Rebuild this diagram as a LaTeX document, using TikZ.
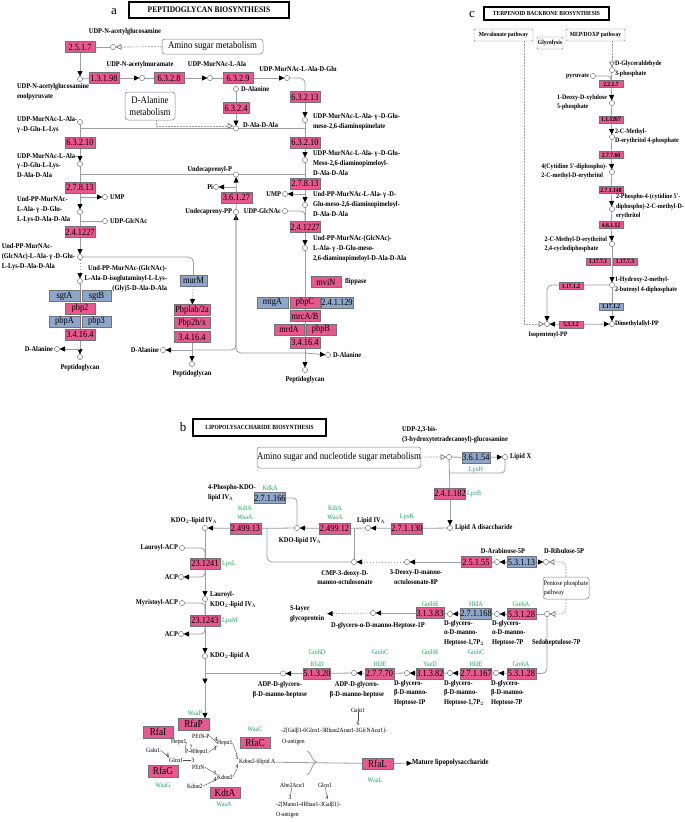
\documentclass[tikz,border=0pt]{standalone}
\usepackage{fontspec}
\setmainfont{Liberation Serif}
\newfontfamily\cnd{Liberation Serif}[FakeStretch=0.88]
\usetikzlibrary{arrows.meta,calc}
\pgfdeclarelayer{bg}
\pgfsetlayers{bg,main}
\definecolor{pinkc}{RGB}{232,88,142}
\definecolor{bluec}{RGB}{142,166,202}
\definecolor{linec}{RGB}{158,158,158}
\definecolor{grnc}{RGB}{30,165,95}
\newcommand\lblf{\cnd\bfseries\fontsize{7.3}{9.8}\selectfont}
\newcommand\clblf{\cnd\bfseries\fontsize{6.8}{9.6}\selectfont}
\newcommand\boxf{\cnd\fontsize{9.5}{10}\selectfont}
\newcommand\cboxf{\cnd\bfseries\fontsize{6.4}{7}\selectfont}
\newcommand\grnf{\cnd\fontsize{7}{9}\selectfont}
\newcommand\mapf{\cnd\fontsize{10}{12}\selectfont}
\newcommand\glyf{\cnd\fontsize{6.4}{7}\selectfont}
\tikzset{
 pinkbox/.style={draw=black!55, line width=0.4pt, fill=pinkc, minimum width=#1, minimum height=11pt, inner sep=0pt, outer sep=0pt, font=\boxf},
 pinkbox/.default=30pt,
 bluebox/.style={pinkbox=#1, fill=bluec},
 bluebox/.default=30pt,
 cpink/.style={pinkbox=24pt, minimum height=7pt, font=\cboxf},
 cblue/.style={cpink, fill=bluec},
 bigpink/.style={pinkbox=#1, minimum height=11.5pt, font=\cnd\fontsize{10.5}{11}\selectfont},
 bigpink/.default=30pt,
 lbl/.style={inner sep=0pt, outer sep=0pt, font=\lblf, align=left},
 clbl/.style={lbl, font=\clblf},
 grn/.style={inner sep=0pt, font=\grnf, text=grnc},
 gly/.style={inner sep=0pt, font=\glyf},
 cpd/.style={circle, draw=black!50, fill=white, inner sep=0pt, outer sep=0pt, minimum size=5.2pt, line width=0.5pt},
 lnk/.style={draw=linec, line width=0.8pt},
 glk/.style={draw=black!70, line width=0.4pt},
 dsh/.style={draw=linec, line width=0.7pt, dash pattern=on 1.6pt off 1.4pt},
 arw/.style={-{Triangle[length=5.4pt,width=5pt,color=black]}},
 oarw/.style={-{Triangle[open,length=5.8pt,width=5.8pt,color=black!55]}},
 ttl/.style={draw=black, line width=1.5pt, inner sep=0pt},
 mapbox/.style={draw=black!50, rounded corners=3pt, line width=0.5pt, inner sep=0pt, font=\mapf, align=center},
 smallmap/.style={draw=black!50, line width=0.4pt, rounded corners=1pt, minimum height=12pt, inner sep=0pt, font=\cnd\bfseries\fontsize{6.3}{7}\selectfont},
 pnl/.style={inner sep=0pt, font=\fontsize{13}{13}\selectfont}
}
\begin{document}
\begin{tikzpicture}[x=1pt,y=-1pt]
\useasboundingbox (0,0) rectangle (685,822);
\begin{pgfonlayer}{bg}
\fill[white] (0,0) rectangle (685,822);
\end{pgfonlayer}

%%%%%%%%%%%%%%%% PANEL A %%%%%%%%%%%%%%%%
\node[pnl] (la) at (114,12) {a};
\node[ttl, minimum width=160pt, minimum height=16pt, font=\cnd\bfseries\fontsize{8.5}{9}\selectfont] (ta) at (209,10) {PEPTIDOGLYCAN BIOSYNTHESIS};
\node[mapbox, minimum width=101pt, minimum height=15pt] (amino) at (212.5,46.5) {Amino sugar metabolism};
\node[mapbox, minimum width=50pt, minimum height=28pt] (dala) at (150,106) {D-Alanine\\metabolism};

\node[pinkbox] (e2517) at (80,47) {2.5.1.7};
\node[cpd] (A1) at (113,47) {};
\node[lbl] (lA1) at (125,32) {UDP-N-acetylglucosamine};
\node[cpd] (A2) at (80,79) {};
\node[lbl,anchor=west] (lA2) at (17,92) {UDP-N-acetylglucosamine\\enolpyruvate};
\node[pinkbox] (e13198) at (104,78) {1.3.1.98};
\node[cpd] (A3) at (142,78) {};
\node[lbl] (lA3) at (140,65) {UDP-N-acetylmuramate};
\node[pinkbox] (e6328) at (169,78) {6.3.2.8};
\node[cpd] (A4) at (210,78) {};
\node[lbl] (lA4) at (217,64.5) {UDP-MurNAc-L-Ala};
\node[pinkbox] (e6329) at (238,78) {6.3.2.9};
\node[cpd] (A5) at (287,78) {};
\node[lbl] (lA5) at (298,69) {UDP-MurNAc-L-Ala-D-Glu};
\node[pinkbox] (e63213) at (305,97) {6.3.2.13};
\node[cpd] (A6) at (305,120) {};
\node[lbl,anchor=west] (lA6) at (313,122) {UDP-MurNAc-L-Ala-\,γ\,-D-Glu-\\meso-2,6-diaminopimelate};
\node[pinkbox] (e63210b) at (305,142.5) {6.3.2.10};
\node[cpd] (A7) at (305,160) {};
\node[lbl,anchor=west] (lA7) at (313,163) {UDP-MurNAc-L-Ala-\,γ\,-D-Glu-\\Meso-2,6-diaminopimeloyl-\\D-Ala-D-Ala};
\node[pinkbox] (e27813b) at (305,183.5) {2.7.8.13};
\node[cpd] (A8) at (305,205) {};
\node[lbl,anchor=west] (lA8) at (313,204) {Und-PP-MurNAc-L-Ala-\,γ\,-D-\\Glu-meso-2,6-diaminopimeloyl-\\D-Ala-D-Ala};
\node[cpd] (A9) at (285,194) {};
\node[lbl,anchor=east] (lA9) at (281,194) {UMP};
\node[cpd] (A10) at (285,211) {};
\node[lbl,anchor=east] (lA10) at (281,211) {UDP-GlcNAc};
\node[pinkbox] (e24b) at (305,227) {2.4.1227};
\node[cpd] (A11) at (305,248) {};
\node[lbl,anchor=west] (lA11) at (313,249) {Und-PP-MurNAc-(GlcNAc)-\\L-Ala-\,γ\,-D-Glu-meso-\\2,6-diaminopimeloyl-D-Ala-D-Ala};
\node[pinkbox] (mviN) at (326,282) {mviN};
\node[lbl,anchor=west] (lflip) at (345,282) {flippase};
\node[bluebox=31pt] (mtgA) at (272.5,302.5) {mtgA};
\node[pinkbox] (pbpC) at (305,302.5) {pbpC};
\node[bluebox=32pt] (e24129) at (337,302.5) {2.4.1.129};
\node[pinkbox] (mrcA) at (305,316) {mrcA/B};
\node[pinkbox] (mrdA) at (289,329.5) {mrdA};
\node[pinkbox] (pbpB) at (321,329.5) {pbpB};
\node[pinkbox] (e34164c) at (305,342.5) {3.4.16.4};
\node[cpd] (A12) at (305,370) {};
\node[lbl] (lA12) at (305,380) {Peptidoglycan};
\node[cpd] (A13) at (328,355) {};
\node[lbl,anchor=west] (lA13) at (333,355) {D-Alanine};
\coordinate (J1) at (305,353);
\node[cpd] (A14) at (236,212) {};
\node[lbl,anchor=east] (lA14) at (232,212) {Undecapreny-PP};
\node[pinkbox=31pt] (e36127) at (236.5,197.5) {3.6.1.27};
\node[cpd] (A15) at (236,174.5) {};
\node[lbl,anchor=east] (lA15) at (232,169.5) {Undecaprenyl-P};
\node[cpd] (A16) at (216,187) {};
\node[lbl,anchor=east] (lA16) at (213,187) {Pi};
\node[cpd] (A17) at (236,128.5) {};
\node[lbl,anchor=west] (lA17) at (243,125) {D-Ala-D-Ala};
\node[pinkbox=26pt] (e6324) at (236,108) {6.3.2.4};
\node[cpd] (A18) at (236,89) {};
\node[lbl,anchor=west] (lA18) at (241,89) {D-Alanine};

\node[cpd] (B1) at (80,122) {};
\node[lbl,anchor=west] (lB1) at (17,124.5) {UDP-MurNAc-L-Ala-\\γ\,-D-Glu-L-Lys};
\node[pinkbox] (e63210a) at (80,142.5) {6.3.2.10};
\node[cpd] (B2) at (80,164) {};
\node[lbl,anchor=west] (lB2) at (17,165.5) {UDP-MurNAc-L-Ala-\\γ\,-D-Glu-L-Lys-\\D-Ala-D-Ala};
\node[pinkbox] (e27813a) at (80,187.5) {2.7.8.13};
\node[cpd] (B3) at (105,197) {};
\node[lbl,anchor=west] (lB3) at (110,197) {UMP};
\node[cpd] (B4) at (80,212) {};
\node[lbl,anchor=west] (lB4) at (17,210) {Und-PP-MurNAc-\\L-Ala-\,γ\,-D-Glu-\\L-Lys-D-Ala-D-Ala};
\node[cpd] (B5) at (105,221) {};
\node[lbl,anchor=west] (lB5) at (110,221) {UDP-GlcNAc};
\node[pinkbox] (e24a) at (80,232) {2.4.1227};
\node[cpd] (B6) at (80,257) {};
\node[lbl,anchor=east] (lB6) at (75,257) {Und-PP-MurNAc-\\(GlcNAc)-L-Ala-\,γ\,-D-Glu-\\L-Lys-D-Ala-D-Ala};
\node[bluebox=27pt] (murM) at (193.5,280.5) {murM};
\node[cpd] (B7) at (80,281) {};
\node[lbl,anchor=east,align=right] (lB7) at (167,279) {Und-PP-MurNAc-(GlcNAc)-\\L-Ala-D-isoglutaminyl-L-Lys-\\(Gly)5-D-Ala-D-Ala};
\node[bluebox=31pt] (sgtA) at (64.5,296) {sgtA};
\node[bluebox=29pt] (sgtB) at (96.5,296) {sgtB};
\node[pinkbox] (pbp2) at (80,308.5) {pbp2};
\node[bluebox=31pt] (pbpA) at (64.5,321.5) {pbpA};
\node[bluebox=29pt] (pbp3) at (96.5,321.5) {pbp3};
\node[pinkbox] (e34164a) at (80,334.5) {3.4.16.4};
\node[cpd] (B8) at (80,357) {};
\node[lbl] (lB8) at (80,368) {Peptidoglycan};
\node[cpd] (B9) at (57,349) {};
\node[lbl,anchor=east] (lB9) at (53,349) {D-Alanine};
\node[pinkbox=36pt] (pbp1) at (192,310) {Pbplab/2a};
\node[pinkbox=36pt] (pbp2b) at (192,323) {Pbp2b/x};
\node[pinkbox=36pt] (e34164b) at (192,337) {3.4.16.4};
\node[cpd] (B10) at (192,364) {};
\node[lbl] (lB10) at (192,374) {Peptidoglycan};
\node[cpd] (B11) at (163,350) {};
\node[lbl,anchor=east] (lB11) at (159,350) {D-Alanine};
\coordinate (J2) at (192,350);

\begin{pgfonlayer}{bg}
\draw[lnk] (e2517) -- (A1);
\draw[dsh,oarw] (amino) -- (A1);
\draw[lnk,arw] (e2517) -- (A2);
\draw[lnk] (A2) -- (e13198);
\draw[lnk,arw] (e13198) -- (A3);
\draw[lnk] (A3) -- (e6328);
\draw[lnk,arw] (e6328) -- (A4);
\draw[lnk] (A4) -- (e6329);
\draw[lnk,arw] (e6329) -- (A5);
\draw[lnk,rounded corners=5pt] (A5) -| (e63213);
\draw[lnk,arw] (e63213) -- (A6);
\draw[lnk] (A6) -- (e63210b);
\draw[lnk,arw] (e63210b) -- (A7);
\draw[lnk] (A7) -- (e27813b);
\draw[lnk,arw] (e27813b) -- (A8);
\draw[lnk,arw] (e27813b.south |- A9) -- (A9);
\draw[lnk] (A8) -- (e24b);
\draw[lnk,rounded corners=4pt] (A10) -| (e24b.north);
\draw[lnk,arw] (e24b) -- (A11);
\draw[lnk,arw] (A11) -- (A12);
\draw[lnk,arw] (J1) -- (A13);
\draw[lnk,arw,rounded corners=5pt] (J1) -| (A14);
\draw[lnk] (A14) -- (e36127);
\draw[lnk,arw] (e36127) -- (A15);
\draw[lnk,arw] (e36127.north |- A16) -- (A16);
\draw[lnk] (e27813a.north |- A15) -- (A15) -- (e27813b.north |- A15);
\draw[lnk] (e63210a.north |- A17) -- (A17) -- (e63210b.north |- A17);
\draw[lnk] (A18) -- (e6324);
\draw[lnk,arw] (e6324) -- (A17);
\draw[dsh,oarw] ($(dala.south)+(6,0)$) |- ($(A17.west)+(0,-2.5)$);
\draw[lnk] (B1) -- (e63210a);
\draw[lnk,arw] (e63210a) -- (B2);
\draw[lnk] (B2) -- (e27813a);
\draw[lnk,arw] (e27813a.south |- B3) -- (B3);
\draw[lnk,arw] (e27813a) -- (B4);
\draw[lnk] (B4) -- (e24a);
\draw[lnk] (e24a.north |- B5) -- (B5);
\draw[lnk,arw] (e24a) -- (B6);
\draw[lnk,rounded corners=5pt] (B6) -| (murM);
\draw[dsh,arw] (B6) -- (B7);
\draw[lnk,arw] (B7) -- (B8);
\draw[lnk,arw] (e34164a.south |- B9) -- (B9);
\draw[dsh,arw] (murM) -- (pbp1);
\draw[lnk,arw] (e34164b) -- (B10);
\draw[lnk,arw] (J2) -- (B11);
\draw[lnk,rounded corners=5pt] (J2) -| (A14);
\end{pgfonlayer}

%%%%%%%%%%%%%%%% PANEL C %%%%%%%%%%%%%%%%
\node[pnl] (lc) at (472,14) {c};
\node[ttl, minimum width=125pt, minimum height=13pt, font=\cnd\bfseries\fontsize{6.2}{7}\selectfont] (tc) at (546.5,13.5) {TERPENOID BACKBONE BIOSYNTHESIS};
\node[smallmap, minimum width=59pt] (mev) at (503.5,35) {Mevalonate pathway};
\node[smallmap, minimum width=26pt] (gly) at (550,43) {Glycolysis};
\node[smallmap, minimum width=59pt] (mep) at (595.5,35) {MEP/DOXP pathway};
\node[cpd] (C1) at (612,70) {};
\node[clbl,anchor=west] (lC1) at (615,69) {D-Glyceraldehyde\\3-phosphate};
\node[cpd] (C2) at (593,76) {};
\node[clbl,anchor=east] (lC2) at (589,76) {pyruvate};
\node[cpink] (e2217) at (611,84) {2.2.1.7};
\node[cpd] (C3) at (612,103) {};
\node[clbl,anchor=east] (lC3) at (607,102.5) {1-Deoxy-D-xylulose\\5-phosphate};
\node[cpink] (e11267) at (611,119.5) {1.1.1267};
\node[cpd] (C4) at (612,137) {};
\node[clbl,anchor=west] (lC4) at (615,136.5) {2-C-Methyl-\\D-erythritol 4-phosphate};
\node[cpink] (e27760) at (611,155) {2.7.7.60};
\node[cpd] (C5) at (612,172) {};
\node[clbl,anchor=east] (lC5) at (607,171.5) {4(Cytidine 5'-diphospho)-\\2-C-methyl-D-erythritol};
\node[cpink] (e271148) at (611,190) {2.7.1.148};
\node[cpd] (C6) at (612,209) {};
\node[clbl,anchor=west] (lC6) at (616,206.5) {2-Phospho-4-(cytidine 5'-\\diphospho)-2-C-methyl-D-\\erythritol};
\node[cpink] (e46112) at (611,225) {4.6.1.12};
\node[cpd] (C7) at (612,244) {};
\node[clbl,anchor=east] (lC7) at (607,244.5) {2-C-Methyl-D-erythritol\\2,4-cyclodiphosphate};
\node[cpink] (e17171) at (598,261.5) {1.17.7.1};
\node[cpink] (e17173) at (625,261.5) {1.17.7.3};
\node[cpd] (C8) at (612,285) {};
\node[clbl,anchor=west] (lC8) at (615,285) {1-Hydroxy-2-methyl-\\2-butenyl 4-diphosphate};
\node[cpink] (e17112p) at (571,286) {1.17.1.2};
\node[cblue] (e17112b) at (611,306.5) {1.17.1.2};
\node[cpd] (C9) at (612,324) {};
\node[clbl,anchor=west] (lC9) at (615,324) {Dimethylallyl-PP};
\node[cpd] (C10) at (547,324) {};
\node[clbl] (lC10) at (548,334.5) {Isopentenyl-PP};
\node[cpink] (e5332) at (571,324.5) {5.3.3.2};
\begin{pgfonlayer}{bg}
\draw[dsh,oarw] (mep.south -| C1) -- (C1);
\draw[dsh,oarw] ($(mev.south east)+(-9,0)$) |- (C10);
\draw[lnk,rounded corners=3pt] (C2) -| (e2217.north);
\draw[lnk] (C1) -- (e2217);
\draw[lnk,arw] (e2217) -- (C3);
\draw[lnk] (C3) -- (e11267);
\draw[lnk,arw] (e11267) -- (C4);
\draw[lnk] (C4) -- (e27760);
\draw[lnk,arw] (e27760) -- (C5);
\draw[lnk] (C5) -- (e271148);
\draw[lnk,arw] (e271148) -- (C6);
\draw[lnk] (C6) -- (e46112);
\draw[lnk,arw] (e46112) -- (C7);
\draw[lnk,arw] (C7) -- (C8);
\draw[lnk,arw] (C8) -- (C9);
\draw[lnk,arw,rounded corners=5pt] (C8) -| (C10);
\draw[lnk,arw] (e5332) -- (C10);
\draw[lnk,arw] (e5332) -- (C9);
\end{pgfonlayer}

%%%%%%%%%%%%%%%% PANEL B %%%%%%%%%%%%%%%%
\node[pnl] (lb) at (183,427) {b};
\node[ttl, minimum width=133pt, minimum height=17pt, font=\cnd\bfseries\fontsize{6.3}{7}\selectfont] (tb) at (259.5,427.5) {LIPOPOLYSACCHARIDE BIOSYNTHESIS};
\node[lbl,anchor=west] (lD0) at (402,434.5) {UDP-2,3-bis-\\(3-hydroxytetradecanoyl)-glucosamine};
\node[mapbox, minimum width=154pt, minimum height=21pt] (amino2) at (339,457.5) {Amino sugar and nucleotide sugar metabolism};
\node[cpd] (D1) at (449,457) {};
\node[bluebox=28pt] (e36154) at (476,457.5) {3.6.1.54};
\node[grn] (gD1) at (476,469.5) {LpxH};
\node[cpd] (D2) at (505,457) {};
\node[lbl,anchor=west] (lD2) at (510,457) {Lipid X};
\node[pinkbox] (e241182) at (450,493.5) {2.4.1.182};
\node[grn,anchor=west] (gD2) at (467,493.5) {LpxB};
\coordinate (J4) at (450,473);
\node[cpd] (D3) at (450,528) {};
\node[lbl,anchor=west] (lD3) at (455,528) {Lipid A disaccharide};
\node[pinkbox] (e27130) at (407,528.5) {2.7.1.130};
\node[grn] (gD3) at (407,517) {LpxK};
\node[cpd] (D4) at (368,528) {};
\node[lbl] (lD4) at (371,520.5) {Lipid IV$_{\mathrm A}$};
\node[pinkbox=31pt] (e249912) at (334.5,528.5) {2.499.12};
\node[grn] (gD4a) at (335,508) {KdtA};
\node[grn] (gD4b) at (335,517) {WaaA};
\node[cpd] (D5) at (297,528) {};
\node[lbl] (lD5) at (300,541) {KDO-lipid IV$_{\mathrm A}$};
\node[bluebox] (e271166) at (270,498) {2.7.1.166};
\node[grn] (gD5) at (270,488.5) {KdkA};
\node[lbl,anchor=west] (lD5b) at (208,492.5) {4-Phospho-KDO-\\lipid IV$_{\mathrm A}$};
\node[pinkbox=31pt] (e249913) at (245.5,528.5) {2.499.13};
\node[grn] (gD6a) at (245,508) {KdtA};
\node[grn] (gD6b) at (245,517) {WaaA};
\node[cpd] (D6) at (205,528) {};
\node[lbl] (lD6) at (194,520.5) {KDO$_2$-lipid IV$_{\mathrm A}$};
\node[cpd] (D7) at (354,562) {};
\node[lbl,align=center] (lD7) at (345,577.5) {CMP-3-deoxy-D-\\manno-octulosonate};
\node[cpd] (D8) at (407,562) {};
\node[lbl,align=center] (lD8) at (416,577.5) {3-Deoxy-D-manno-\\octulosonate-8P};
\node[pinkbox] (e25155) at (476,562) {2.5.1.55};
\node[cpd] (D9) at (497,562) {};
\node[lbl] (lD9) at (503,551) {D-Arabinose-5P};
\node[bluebox=29pt] (e53113) at (521.5,562) {5.3.1.13};
\node[cpd] (D10) at (546,562) {};
\node[lbl] (lD10) at (564,551) {D-Ribulose-5P};
\node[mapbox, minimum width=46pt, minimum height=22pt, align=left, font=\cnd\fontsize{6.8}{9}\selectfont] (ppp) at (566,588) {Pentose phosphate\\pathway};
\node[cpd] (D11) at (547,614) {};
\node[lbl,anchor=west] (lD11) at (532,643) {Sedoheptulose-7P};
\node[pinkbox=29pt] (e53128a) at (521.5,614) {5.3.1.28};
\node[grn] (gD11) at (521,604) {GmhA};
\node[cpd] (D12) at (497,614) {};
\node[lbl,anchor=north west] (lD12) at (492,620) {D-glycero-\\α-D-manno-\\Heptose-7P};
\node[bluebox] (e271168) at (476,613.5) {2.7.1.168};
\node[grn] (gD12) at (476,604) {HldA};
\node[cpd] (D13) at (450,614) {};
\node[lbl,anchor=north west] (lD13) at (444,620) {D-glycero-\\α-D-manno-\\Heptose-1,7P$_2$};
\node[pinkbox=28pt] (e31383) at (430,613) {3.1.3.83};
\node[grn] (gD13) at (430,604) {GmhB};
\node[cpd] (D14) at (373,613) {};
\node[lbl] (lD14) at (378,626) {D-glycero-α-D-manno-Heptose-1P};
\node[lbl,anchor=west,outer sep=3pt] (slayer) at (287,614) {S-layer\\glycoprotein};

\node[pinkbox=29pt] (e53128b) at (521.5,673.5) {5.3.1.28};
\node[grn] (gE1) at (521,664) {GmhA};
\node[cpd] (D16) at (496,673) {};
\node[lbl,anchor=north west] (lD16) at (491,680) {D-glycero-\\β-D-manno-\\Heptose-7P};
\node[pinkbox] (e271167) at (476,673.5) {2.7.1.167};
\node[grn] (gE2a) at (476,652) {GmhC};
\node[grn] (gE2b) at (476,664) {HldE};
\node[cpd] (D17) at (450,673) {};
\node[lbl,anchor=north west] (lD17) at (444,680) {D-glycero-\\β-D-manno-\\Heptose-1,7P$_2$};
\node[pinkbox=26pt] (e31382) at (430,673.5) {3.1.3.82};
\node[grn] (gE3a) at (430,652) {GmhB};
\node[grn] (gE3b) at (430,664) {YaeD};
\node[cpd] (D18) at (407,673) {};
\node[lbl,anchor=north west] (lD18) at (394,680) {D-glycero-\\β-D-manno-\\Heptose-1P};
\node[pinkbox=29pt] (e27770) at (379.5,673.5) {2.7.7.70};
\node[grn] (gE4a) at (380,652) {GmhC};
\node[grn] (gE4b) at (380,664) {HldE};
\node[cpd] (D19) at (354,673) {};
\node[lbl,align=center] (lD19) at (357,690) {ADP-D-glycero-\\β-D-manno-heptose};
\node[pinkbox=26pt] (e51320) at (317,673.5) {5.1.3.20};
\node[grn] (gE5a) at (317,652) {GmhD};
\node[grn] (gE5b) at (317,664) {RfaD};
\node[cpd] (D20) at (283,673.5) {};
\node[lbl,align=center] (lD20) at (280,690) {ADP-D-glycero-\\β-D-manno-heptose};
\coordinate (J7) at (205,673.5);
\coordinate (J8) at (205,684);

\node[pinkbox] (e231241) at (205,563.5) {23.1241};
\node[grn,anchor=west] (gL1) at (222,563.5) {LpxL};
\node[cpd] (D21) at (182,548) {};
\node[lbl,anchor=east] (lD21) at (178,548) {Lauroyl-ACP};
\node[cpd] (Dac1) at (181,577) {};
\node[lbl,anchor=east] (lac1) at (178,577) {ACP};
\node[cpd] (D22) at (205,599) {};
\node[lbl,anchor=west] (lD22) at (210,600) {Lauroyl-\\KDO$_2$-lipid IV$_{\mathrm A}$};
\node[pinkbox] (e231243) at (205,620.5) {23.1243};
\node[grn,anchor=west] (gL2) at (222,620.5) {LpxM};
\node[cpd] (D24) at (182,603) {};
\node[lbl,anchor=east] (lD24) at (178,603) {Myristoyl-ACP};
\node[cpd] (Dac2) at (181,634) {};
\node[lbl,anchor=east] (lac2) at (178,634) {ACP};
\node[cpd] (D23) at (205,656) {};
\node[lbl,anchor=west] (lD23) at (210,656) {KDO$_2$-lipid A};

\node[grn] (gP) at (195,713) {WaaP};
\node[bigpink=31pt] (rfaP) at (193.5,724) {RfaP};
\node[bigpink] (rfaI) at (158,732) {RfaI};
\node[bigpink] (rfaG) at (163,771) {RfaG};
\node[grn] (gG) at (163,785) {WaaG};
\node[bigpink] (kdtA) at (225,792.5) {KdtA};
\node[grn] (gK) at (224,804) {WaaA};
\node[bigpink] (rfaC) at (255,742.5) {RfaC};
\node[grn] (gC) at (255,729) {WaaC};
\node[bigpink=31pt] (rfaL) at (377.5,763.5) {RfaL};
\node[grn] (gL) at (375,780) {WaaL};
\node[lbl,anchor=west,font=\cnd\bfseries\fontsize{7.6}{8}\selectfont] (mature) at (412,763) {Mature lipopolysaccharide};

\node[gly,anchor=west] (s1) at (192,736) {PEtN-P};
\node[gly] (s2) at (216,739) {4};
\node[gly,anchor=west] (s3) at (217,743) {Hepα1};
\node[gly,anchor=west] (s4) at (171,742) {Hepα1};
\node[gly] (s5) at (191,747) {7};
\node[gly] (s6) at (215,748) {3};
\node[gly,anchor=west] (s7) at (185,752.5) {P-4Hepα1};
\node[gly] (s8) at (193,760) {3};
\node[gly,anchor=west] (s9) at (146,750) {Galα1};
\node[gly] (s10) at (168,755) {6};
\node[gly,anchor=west] (s11) at (169,760) {Glcα1};
\node[gly] (s12) at (237,757) {5};
\node[gly,anchor=west] (s13) at (239,762) {Kdoα2-6lipid A};
\node[gly] (s14) at (237,766.5) {4};
\node[gly,anchor=west] (s15) at (192,767) {PEtN};
\node[gly] (s16) at (215,773) {7};
\node[gly,anchor=west] (s17) at (217,777) {Kdoα2};
\node[gly] (s18) at (215,779.5) {4};
\node[gly,anchor=west] (s19) at (187,786) {Kdoα2};
\node[gly] (g1) at (358,710) {Galα1};
\node[gly] (g2) at (358,723) {6};
\node[gly,anchor=west] (g3) at (281,730.5) {-2[Galβ1-6Glcα1-3Rhaα2Araα1-3GlcNAcα1]-};
\node[gly,anchor=west] (g4) at (282,742) {O-antigen};
\node[gly,anchor=west] (h1) at (280,785) {Abe2Acα1};
\node[gly] (h2) at (290,797) {3};
\node[gly] (h3) at (325,785) {Glcα1};
\node[gly] (h4) at (327,797) {4};
\node[gly,anchor=west] (h5) at (276,805) {-2[Manα1-4Rhaα1-3Galβ1]-};
\node[gly,anchor=west] (h6) at (276,815) {O-antigen};

\begin{pgfonlayer}{bg}
\draw[dsh,oarw] (amino2) -- (D1);
\draw[lnk] (D1) -- (e36154);
\draw[lnk,arw] (e36154) -- (D2);
\draw[lnk] (D1) -- (e241182);
\draw[lnk,rounded corners=4pt] (D2) |- (J4);
\draw[lnk,arw] (e241182) -- (D3);
\draw[lnk] (D3) -- (e27130);
\draw[lnk,arw] (e27130) -- (D4);
\draw[lnk] (D4) -- (e249912);
\draw[lnk,arw] (e249912) -- (D5);
\draw[lnk,rounded corners=4pt] (e271166) -| (D5);
\draw[lnk] (D5) -- (e249913);
\draw[lnk,arw] (e249913) -- (D6);
\draw[lnk,rounded corners=5pt] ($(e249913.east)+(6,0)$) |- (D7);
\draw[lnk] (D7 |- e249912) -- (D7);
\draw[dsh,arw] (D8) -- (D7);
\draw[lnk,arw] (e25155) -- (D8);
\draw[lnk] (D9) -- (e25155);
\draw[lnk,arw] (e53113) -- (D9);
\draw[lnk,arw] (e53113) -- (D10);
\draw[dsh,oarw,rounded corners=5pt] (ppp.north) |- (D10);
\draw[dsh,oarw,rounded corners=5pt] (ppp.south) |- (D11);
\draw[lnk] (D11) -- (e53128a);
\draw[lnk,arw] (e53128a) -- (D12);
\draw[lnk] (D12) -- (e271168);
\draw[lnk,arw] (e271168) -- (D13);
\draw[lnk] (D13) -- (e31383);
\draw[lnk,arw] (e31383) -- (D14);
\draw[dsh,arw] (D14) -- (slayer);
\draw[lnk,rounded corners=5pt] (e53128b) -| (D11);
\draw[lnk,arw] (e53128b) -- (D16);
\draw[lnk] (D16) -- (e271167);
\draw[lnk,arw] (e271167) -- (D17);
\draw[lnk] (D17) -- (e31382);
\draw[lnk,arw] (e31382) -- (D18);
\draw[lnk] (D18) -- (e27770);
\draw[lnk,arw] (e27770) -- (D19);
\draw[lnk] (D19) -- (e51320);
\draw[lnk,arw] (e51320) -- (D20);
\draw[lnk] (D20) -- (J7);
\draw[lnk] (D6) -- (e231241);
\draw[lnk,arw] (e231241) -- (D22);
\draw[lnk] (D22) -- (e231243);
\draw[lnk,arw] (e231243) -- (D23);
\draw[lnk,arw] (D23) -- (J8);
\draw[lnk,arw] (J8) -- (J8 |- rfaP.north);
\draw[lnk,rounded corners=4pt] (D21) -| (e231241.north);
\draw[lnk,arw,rounded corners=4pt] (e231241.south) |- (Dac1);
\draw[lnk,rounded corners=4pt] (D24) -| (e231243.north);
\draw[lnk,arw,rounded corners=4pt] (e231243.south) |- (Dac2);
\draw[lnk] (s13) -- (rfaL);
\draw[lnk,arw] (rfaL) -- (mature);
\draw[lnk] (307,751) .. controls (312,752) and (311,762) .. (317,762);
\draw[lnk] (307,775) .. controls (312,774) and (311,762) .. (317,762);
\draw[glk] (s1.east) -- (s3.west);
\draw[glk] (s4.east) -- (s7.north west);
\draw[glk] (s7.east) -- (s3.south west);
\draw[glk] (s9.east) -- (s11.north west);
\draw[glk] (s11.east) -- (s8.west);
\draw[glk] (s3.east) -- (s12.north);
\draw[glk] (s17.east) -- (s14.south);
\draw[glk] (s15.east) -- (s17.north west);
\draw[glk] (s19.east) -- (s17.south west);
\draw[glk] (g1) -- (g2);
\draw[glk] (h1) -- (h2);
\draw[glk] (h3) -- (h4);
\end{pgfonlayer}
\end{tikzpicture}
\end{document}
